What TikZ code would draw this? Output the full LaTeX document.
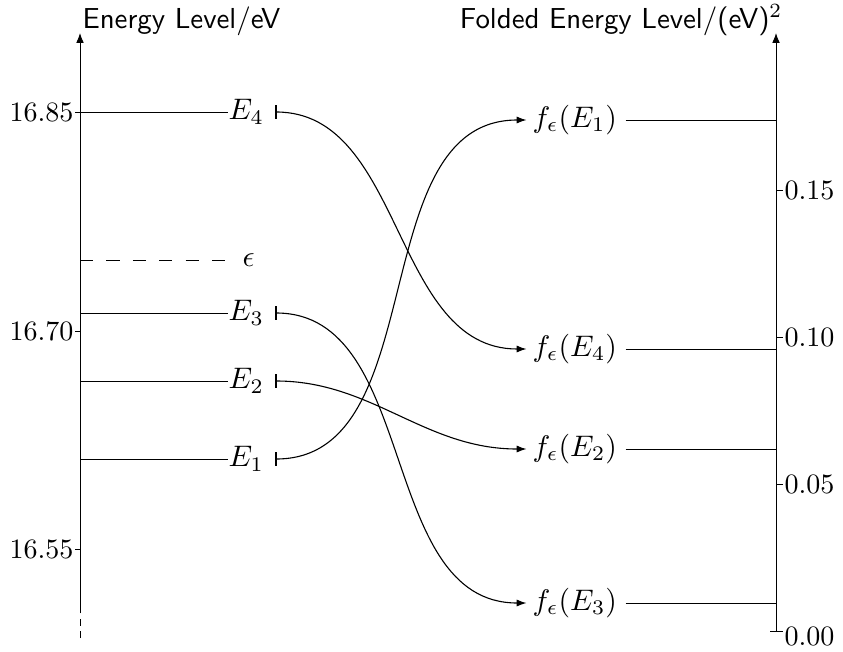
\documentclass[tikz,border=0pt]{standalone}
\usetikzlibrary{arrows.meta}
\begin{document}
\begin{tikzpicture}[x=0.3636pt,y=-0.3636pt,
  axisline/.style={line width=0.35pt,-{Latex[length=3.6pt,width=2.8pt]}},
  level/.style={line width=0.35pt},
  conn/.style={line width=0.4pt,{Bar[width=5pt]}-{Latex[length=3.6pt,width=2.6pt]},shorten <=4pt,shorten >=2pt},
  elab/.style={anchor=west,inner sep=0pt,scale=1.08},
  flab/.style={anchor=west,inner sep=0pt,scale=1.08},
  ltick/.style={anchor=east,inner sep=0pt,scale=1.02},
  rtick/.style={anchor=west,inner sep=0pt,scale=1.02},
  ttl/.style={inner sep=0pt,font=\sffamily,scale=1.05}]
\useasboundingbox (0,0) rectangle (843,651);
% left axis
\coordinate (LD) at (80,638);
\coordinate (LB) at (80,607);
\coordinate (LT) at (80,33);
\draw[line width=0.35pt,dash pattern=on 2.5pt off 2pt] (LD) -- (LB);
\draw[axisline] (LB) -- (LT);
\node[ttl,anchor=base west] (TL) at (82,28) {Energy Level/eV};
% left ticks
\coordinate (l1) at (80,112); \node[ltick] (n1) at (74,112) {$16.85$};
\coordinate (l2) at (80,331); \node[ltick] (n2) at (74,331) {$16.70$};
\coordinate (l3) at (80,549); \node[ltick] (n3) at (74,549) {$16.55$};
\draw[level] (l1) -- ++(-5,0) (l2) -- ++(-5,0) (l3) -- ++(-5,0);
% right axis
\coordinate (RB) at (776,631);
\coordinate (RT) at (776,33);
\draw[axisline] (RB) -- (RT);
\node[ttl,anchor=base east] (TR) at (783,28) {Folded Energy Level/(eV)$^2$};
\coordinate (r1) at (776,190); \node[rtick] (m1) at (784,190) {$0.15$};
\coordinate (r2) at (776,337); \node[rtick] (m2) at (784,337) {$0.10$};
\coordinate (r3) at (776,484); \node[rtick] (m3) at (784,484) {$0.05$};
\coordinate (r4) at (776,631); \node[rtick] (m4) at (784,636) {$0.00$};
\draw[level] (r1) -- ++(7,0) (r2) -- ++(7,0) (r3) -- ++(7,0) (770,631) -- (783,631);
% energy levels
\node[elab] (E4) at (228,112) {$E_4$};
\node[elab] (E3) at (228,313) {$E_3$};
\node[elab] (E2) at (228,381) {$E_2$};
\node[elab] (E1) at (228,459) {$E_1$};
\node[elab] (eps) at (242,260) {$\epsilon$};
\coordinate (a4) at (80,112);
\coordinate (a3) at (80,313);
\coordinate (a2) at (80,381);
\coordinate (a1) at (80,459);
\coordinate (ae) at (80,260);
\draw[level] (a4) -- (E4.west);
\draw[level] (a3) -- (E3.west);
\draw[level] (a2) -- (E2.west);
\draw[level] (a1) -- (E1.west);
\draw[level,dash pattern=on 4.8pt off 4.8pt,shorten >=4pt] (ae) -- (eps.west);
% folded levels
\node[flab] (F1) at (532,120) {$f_\epsilon(E_1)$};
\node[flab] (F4) at (532,349) {$f_\epsilon(E_4)$};
\node[flab] (F2) at (532,449) {$f_\epsilon(E_2)$};
\node[flab] (F3) at (532,603) {$f_\epsilon(E_3)$};
\coordinate (b1) at (776,120);
\coordinate (b4) at (776,349);
\coordinate (b2) at (776,449);
\coordinate (b3) at (776,603);
\draw[level,shorten <=3pt] (F1.east) -- (b1);
\draw[level,shorten <=3pt] (F4.east) -- (b4);
\draw[level,shorten <=3pt] (F2.east) -- (b2);
\draw[level,shorten <=3pt] (F3.east) -- (b3);
% connectors
\draw[conn] (E4.east) to[out=0,in=180] (F4.west);
\draw[conn] (E3.east) to[out=0,in=180] (F3.west);
\draw[conn] (E2.east) to[out=0,in=180] (F2.west);
\draw[conn] (E1.east) to[out=0,in=180] (F1.west);
\end{tikzpicture}
\end{document}
